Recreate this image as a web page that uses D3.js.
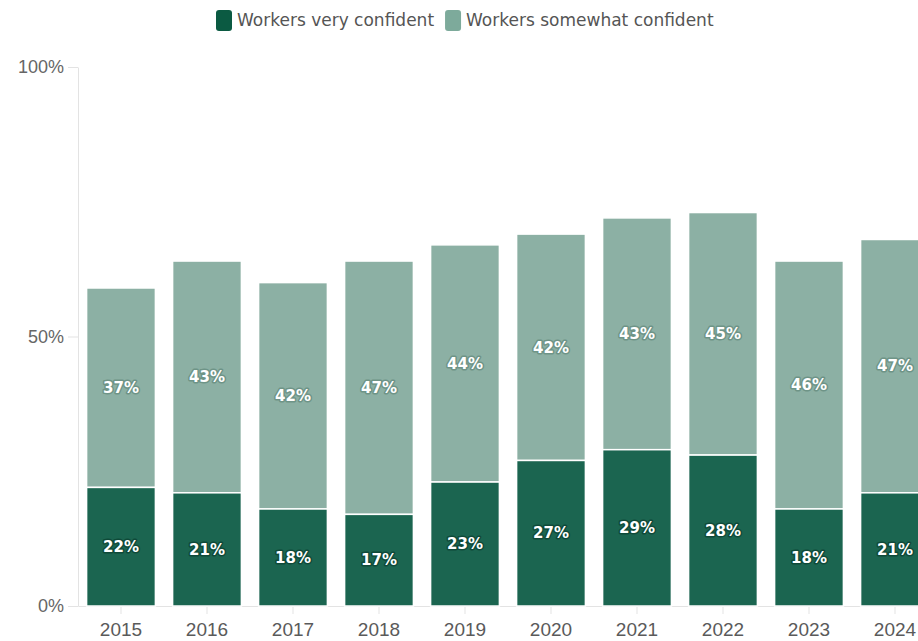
<!DOCTYPE html>
<html>
<head>
<meta charset="utf-8">
<script src="https://cdn.jsdelivr.net/npm/d3@7"></script>
<style>
  body { margin: 0; background: #fff; }
  svg { font-family: "DejaVu Sans", "Noto Sans", sans-serif; }
</style>
</head>
<body>
<svg id="chart" width="918" height="641"></svg>
<script>
// data
var years = ["2015","2016","2017","2018","2019","2020","2021","2022","2023","2024"];
var veryConfident = [22, 21, 18, 17, 23, 27, 29, 28, 18, 21];
var somewhatConfident = [37, 43, 42, 47, 44, 42, 43, 45, 46, 47];
var seriesNames = ["Workers very confident", "Workers somewhat confident"];
var yTicks = [0, 50, 100];

var darkCol = "#1b6550", lightCol = "#8cb0a4";

var svg = d3.select("#chart");
var plotLeft = 78, plotTop = 67, plotBottom = 606;

var x = d3.scaleBand().domain(years).range([plotLeft, plotLeft + 860])
          .paddingInner(0.2).paddingOuter(0.1);
var y = d3.scaleLinear().domain([0, 100]).range([plotBottom, plotTop]);

// axes
var yAxis = svg.append("g").attr("transform", "translate(" + plotLeft + ",0)")
  .call(d3.axisLeft(y).tickValues(yTicks).tickFormat(function(d){ return d + "%"; }).tickSize(10).tickSizeOuter(0).tickPadding(4));
yAxis.select(".domain").attr("stroke", "#e3e3e3");
yAxis.selectAll(".tick line").attr("stroke", "#e3e3e3");
yAxis.selectAll("text").attr("fill", "#666").attr("font-size", 18);

var xAxis = svg.append("g").attr("transform", "translate(0," + plotBottom + ")")
  .call(d3.axisBottom(x).tickSize(8).tickSizeOuter(0).tickPadding(9));
xAxis.select(".domain").attr("stroke", "#e3e3e3");
xAxis.selectAll(".tick line").attr("stroke", "#e3e3e3");
xAxis.selectAll("text").attr("fill", "#5a5a5a").attr("font-size", 19);

// stacked bars
var rows = years.map(function(yr, i){ return {year: yr, a: veryConfident[i], b: somewhatConfident[i]}; });
var g = svg.append("g");

g.selectAll("rect.b").data(rows).enter().append("rect")
  .attr("x", function(d){ return x(d.year); })
  .attr("width", x.bandwidth())
  .attr("y", function(d){ return y(d.a + d.b); })
  .attr("height", function(d){ return y(d.a) - y(d.a + d.b); })
  .attr("fill", lightCol).attr("stroke", "#fff").attr("stroke-width", 1.5);

g.selectAll("rect.a").data(rows).enter().append("rect")
  .attr("x", function(d){ return x(d.year); })
  .attr("width", x.bandwidth())
  .attr("y", function(d){ return y(d.a); })
  .attr("height", function(d){ return y(0) - y(d.a); })
  .attr("fill", darkCol).attr("stroke", "#fff").attr("stroke-width", 1.5);

function addLabels(cls, getY, getV, halo) {
  g.selectAll("text." + cls).data(rows).enter().append("text")
    .attr("class", cls)
    .attr("x", function(d){ return x(d.year) + x.bandwidth() / 2; })
    .attr("y", getY)
    .attr("dy", "0.35em")
    .attr("text-anchor", "middle")
    .attr("font-size", 15).attr("font-weight", "bold")
    .attr("fill", "#fff")
    .attr("stroke", halo).attr("stroke-width", 3).attr("paint-order", "stroke")
    .attr("stroke-linejoin", "round")
    .text(function(d){ return getV(d) + "%"; });
}
addLabels("la", function(d){ return (y(0) + y(d.a)) / 2; }, function(d){ return d.a; }, "#0f4a39");
addLabels("lb", function(d){ return (y(d.a) + y(d.a + d.b)) / 2; }, function(d){ return d.b; }, "#6e9487");

// legend
var legend = svg.append("g").attr("transform", "translate(216,10)");
var lx = 0;
seriesNames.forEach(function(name, i) {
  var item = legend.append("g").attr("transform", "translate(" + lx + ",0)");
  item.append("rect").attr("width", 16).attr("height", 21).attr("rx", 3)
    .attr("fill", i === 0 ? "#0b5a42" : "#7daa9b");
  var t = item.append("text").attr("x", 21).attr("y", 10.5).attr("dy", "0.35em")
    .attr("font-size", 17).attr("fill", "#555").text(name);
  lx += 21 + t.node().getComputedTextLength() + 11;
});
</script>
</body>
</html>
